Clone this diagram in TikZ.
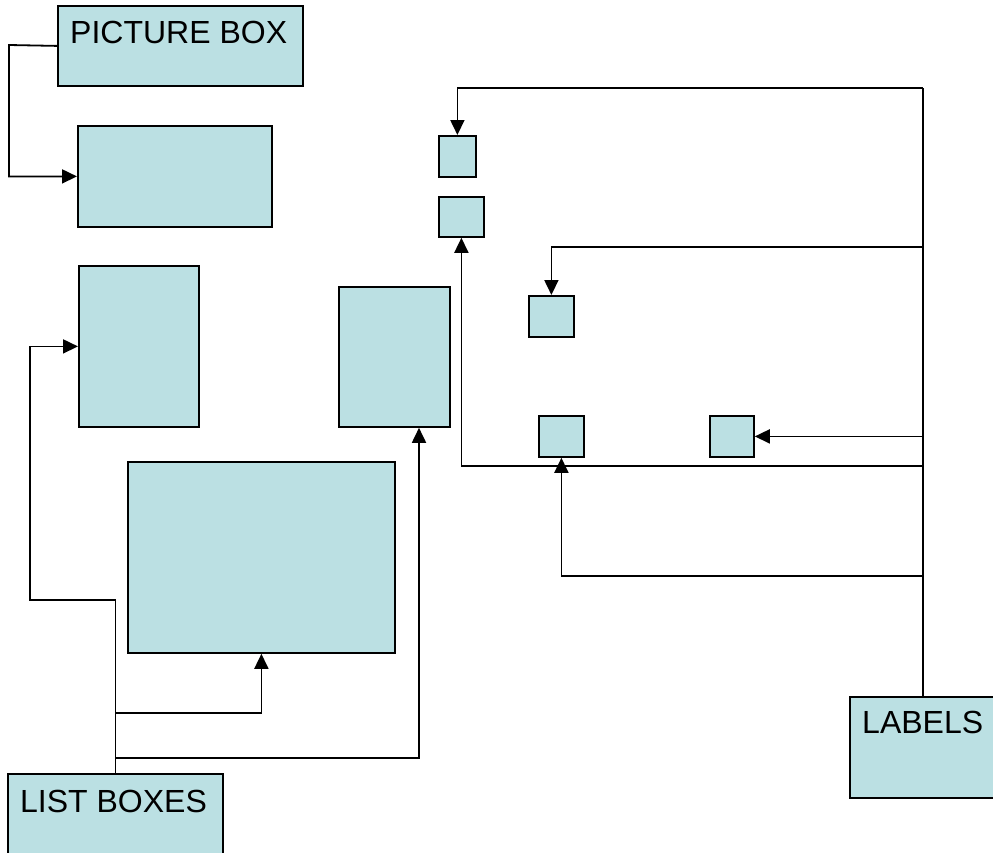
\documentclass[tikz,border=0pt]{standalone}
\usepackage{fontspec}
\setmainfont{Liberation Sans}
\usetikzlibrary{arrows.meta}
\definecolor{boxfill}{RGB}{187,224,227}
\begin{document}
\begin{tikzpicture}[x=1pt,y=-1pt,
  box/.style={draw=black,line width=1.8pt,fill=boxfill,inner sep=0pt,anchor=north west},
  conn/.style={line width=1.8pt,-{Triangle[length=15pt,width=14pt]}},
  plain/.style={line width=2.4pt},
  lbl/.style={anchor=base west,inner sep=0pt,font=\fontsize{32}{37}\selectfont}]
\useasboundingbox[fill=white] (0,0) rectangle (993,852);
% boxes
\node[box,minimum width=245,minimum height=80] (pic) at (57,5) {};
\node[box,minimum width=194,minimum height=101] (b2) at (77,125) {};
\node[box,minimum width=120,minimum height=161] (b3) at (78,265) {};
\node[box,minimum width=111,minimum height=140] (b4) at (338,286) {};
\node[box,minimum width=267,minimum height=191] (b5) at (127,461) {};
\node[box,minimum width=215,minimum height=100] (list) at (7,773) {};
\node[box,minimum width=146,minimum height=101] (lab) at (849,696) {};
\node[box,minimum width=37,minimum height=41] (sA) at (438,135) {};
\node[box,minimum width=45,minimum height=40] (sB) at (438,196) {};
\node[box,minimum width=45,minimum height=41] (sC) at (528,295) {};
\node[box,minimum width=45,minimum height=41] (sD) at (538,415) {};
\node[box,minimum width=44,minimum height=41] (sE) at (709,415) {};
% texts
\node[lbl] (tpic) at ([xshift=13,yshift=-38]pic.north west) {PICTURE BOX};
\node[lbl] (tlist) at ([xshift=13,yshift=-39]list.north west) {LIST BOXES};
\node[lbl] (tlab) at ([xshift=13,yshift=-37]lab.north west) {LABELS};
% picture box connector
\draw[conn] (pic.west) -- (9,45) |- (b2.west);
% list boxes connectors
\draw[conn] (list.north) -- (list.north |- 0,600) -- (30,600) |- (b3.west);
\draw[conn] (list.north |- 0,713) -| (b5.south);
\draw[conn] (list.north |- 0,758) -| (b4.south -| 419,0);
% labels connectors
\draw[plain] (lab.north) -- (lab.north |- 0,88);
\draw[conn] (lab.north |- 0,88) -| (sA.north);
\draw[conn] (lab.north |- 0,247) -| (sC.north);
\draw[conn] (lab.north |- sE.east) -- (sE.east);
\draw[conn] (lab.north |- 0,466) -| (sB.south);
\draw[conn] (lab.north |- 0,576) -| (sD.south);
\end{tikzpicture}
\end{document}
